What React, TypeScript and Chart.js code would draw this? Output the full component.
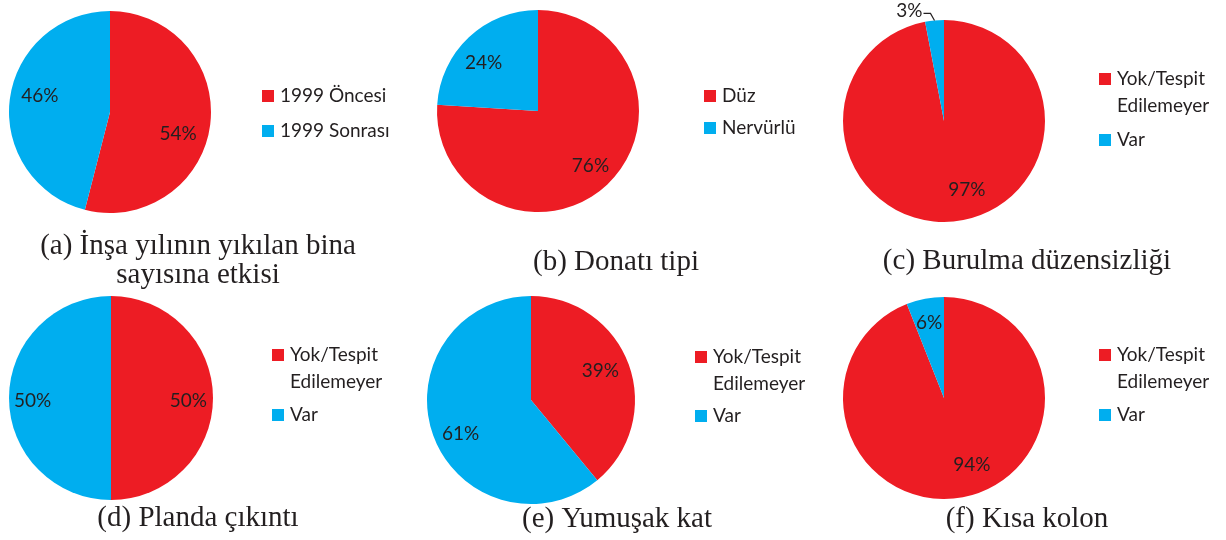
import React, { useEffect, useRef } from "react";
import { Chart, registerables } from "chart.js";

Chart.register(...registerables);

// ---- data ----
const labelsA = ["1999 Öncesi", "1999 Sonrası"];
const valuesA = [54, 46];
const labelsB = ["Düz", "Nervürlü"];
const valuesB = [76, 24];
const labelsYokVar = ["Yok/Tespit\nEdilemeyer", "Var"];
const valuesC = [97, 3];
const valuesD = [50, 50];
const valuesE = [39, 61];
const valuesF = [94, 6];
const captionA = ["(a) İnşa yılının yıkılan bina", "sayısına etkisi"];
const captionB = ["(b) Donatı tipi"];
const captionC = ["(c) Burulma düzensizliği"];
const captionD = ["(d) Planda çıkıntı"];
const captionE = ["(e) Yumuşak kat"];
const captionF = ["(f) Kısa kolon"];

// ---- styles ----
const RED = "#ED1C24";
const BLUE = "#00AEEF";
const TEXT = "#231F20";
const SANS = "Lato, 'Open Sans', sans-serif";
const SERIF = "'Liberation Serif', 'DejaVu Serif', serif";

type Panel = {
  labels: string[];
  values: number[];
  caption: string[];
  x: number; y: number; w: number; h: number;
  cx: number; cy: number; r: number;
  legX: number; legRows: number[];
  capX: number; capY: number[];
  shift: number[][]; // best-fit nudges for the percentage labels
};

const panels: Panel[] = [
  { labels: labelsA, values: valuesA, caption: captionA, x: 0, y: 0, w: 409, h: 290, cx: 110, cy: 112, r: 101, legX: 262, legRows: [96, 131], capX: 198, capY: [254, 283], shift: [[-5, 13], [3, -7]] },
  { labels: labelsB, values: valuesB, caption: captionB, x: 409, y: 0, w: 409, h: 290, cx: 538, cy: 111, r: 101, legX: 704, legRows: [96, 128], capX: 616, capY: [270], shift: [[2, 1], [-4, 6]] },
  { labels: labelsYokVar, values: valuesC, caption: captionC, x: 818, y: 0, w: 408, h: 290, cx: 944, cy: 121, r: 101, legX: 1099, legRows: [79, 140], capX: 1027, capY: [269], shift: [[16, -5], [0, 0]] },
  { labels: labelsYokVar, values: valuesD, caption: captionD, x: 0, y: 290, w: 409, h: 250, cx: 111, cy: 398, r: 102, legX: 272, legRows: [355, 415], capX: 198, capY: [526], shift: [[3, 3], [-4, 3]] },
  { labels: labelsYokVar, values: valuesE, caption: captionE, x: 409, y: 290, w: 396, h: 250, cx: 531, cy: 400, r: 104, legX: 695, legRows: [357, 416], capX: 617, capY: [527], shift: [[-2, -3], [1, 8]] },
  { labels: labelsYokVar, values: valuesF, caption: captionF, x: 818, y: 290, w: 408, h: 250, cx: 944, cy: 398, r: 101, legX: 1099, legRows: [355, 415], capX: 1027, capY: [527], shift: [[14, -6], [-1, -3]] },
];

function PiePanel({ p }: { p: Panel }) {
  const ref = useRef<HTMLCanvasElement>(null);
  useEffect(() => {
    const ox = p.x, oy = p.y;
    const decor = {
      id: "decor",
      afterDraw(chart: any) {
        const ctx = chart.ctx as CanvasRenderingContext2D;
        const meta = chart.getDatasetMeta(0);
        const total = p.values.reduce((a, b) => a + b, 0);
        ctx.save();
        ctx.fillStyle = TEXT;
        ctx.strokeStyle = TEXT;
        ctx.font = `19px ${SANS}`;
        meta.data.forEach((arc: any, i: number) => {
          const { x, y, startAngle, endAngle, outerRadius } = arc.getProps(
            ["x", "y", "startAngle", "endAngle", "outerRadius"], true);
          const mid = (startAngle + endAngle) / 2;
          const frac = p.values[i] / total;
          const txt = Math.round(frac * 100) + "%";
          if (frac < 0.05) {
            const ex = x + Math.cos(mid) * outerRadius;
            const ey = y + Math.sin(mid) * outerRadius;
            ctx.lineWidth = 1.2;
            ctx.beginPath();
            ctx.moveTo(ex, ey);
            ctx.lineTo(ex - 4, ey - 7);
            ctx.lineTo(ex - 11, ey - 7);
            ctx.stroke();
            ctx.textAlign = "right";
            ctx.textBaseline = "middle";
            ctx.fillText(txt, ex - 12, ey - 10);
          } else {
            const lx = x + Math.cos(mid) * outerRadius * 0.73 + p.shift[i][0];
            const ly = y + Math.sin(mid) * outerRadius * 0.73 + p.shift[i][1];
            ctx.textAlign = "center";
            ctx.textBaseline = "middle";
            ctx.fillText(txt, lx, ly);
          }
        });
        // legend
        const colors = [RED, BLUE];
        p.labels.forEach((lab, i) => {
          const rowY = p.legRows[i] - oy;
          const lx = p.legX - ox;
          ctx.fillStyle = colors[i];
          ctx.fillRect(lx, rowY - 6, 12, 12);
          ctx.fillStyle = TEXT;
          ctx.textAlign = "left";
          ctx.textBaseline = "middle";
          lab.split("\n").forEach((line, k) => {
            ctx.fillText(line, lx + 18, rowY + k * 27);
          });
        });
        // caption
        ctx.font = `29px ${SERIF}`;
        ctx.textAlign = "center";
        ctx.textBaseline = "alphabetic";
        p.caption.forEach((line, k) => {
          ctx.fillText(line, p.capX - ox, p.capY[k] - oy);
        });
        ctx.restore();
      },
    };
    const left = p.cx - p.r - ox;
    const top = p.cy - p.r - oy;
    const chart = new Chart(ref.current as HTMLCanvasElement, {
      type: "pie",
      data: {
        labels: p.labels,
        datasets: [{
          data: p.values,
          backgroundColor: [RED, BLUE],
          borderWidth: 0,
          hoverOffset: 0,
          offset: 0,
        }],
      },
      options: {
        responsive: false,
        animation: false,
        events: [],
        layout: {
          padding: {
            left,
            top,
            right: p.w - left - 2 * p.r,
            bottom: p.h - top - 2 * p.r,
          },
        },
        plugins: { legend: { display: false }, tooltip: { enabled: false } },
      } as any,
      plugins: [decor],
    });
    return () => chart.destroy();
  }, []);
  return (
    <canvas
      ref={ref}
      width={p.w}
      height={p.h}
      style={{ position: "absolute", left: p.x, top: p.y, width: p.w, height: p.h }}
    />
  );
}

export default function App() {
  return (
    <div style={{ position: "absolute", left: 0, top: 0, width: 1226, height: 540, background: "#fff", overflow: "hidden" }}>
      {panels.map((p, i) => (
        <PiePanel key={i} p={p} />
      ))}
    </div>
  );
}
